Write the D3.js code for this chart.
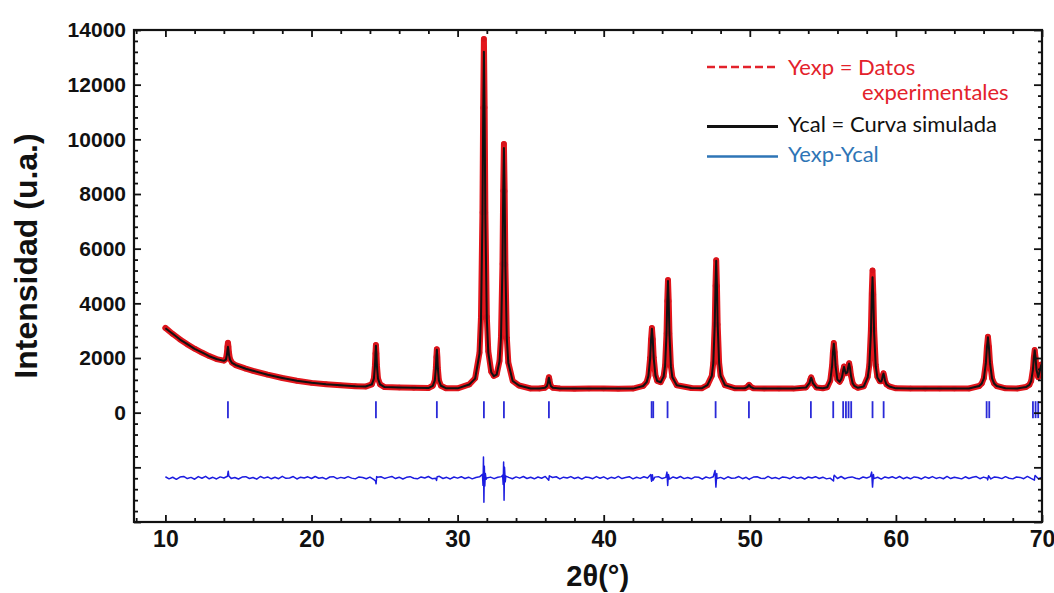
<!DOCTYPE html>
<html>
<head>
<meta charset="utf-8">
<script src="https://cdn.jsdelivr.net/npm/d3@7/dist/d3.min.js"></script>
<style>
  body { margin: 0; background: #fff; }
  svg { display: block; }
</style>
</head>
<body>
<svg id="chart" width="1054" height="593"></svg>
<script>
// ---- Powder diffraction pattern: observed, calculated, difference ----

// 2θ positions of the measured / calculated points (degrees)
const twoTheta = [
  10.0, 10.5, 11.0, 11.5, 12.0, 12.5, 13.0, 13.5,
  14.00, 14.14, 14.21, 14.245, 14.28, 14.315, 14.35, 14.42, 14.56,
  14.8, 15.5, 16.0, 17.0, 18.0, 19.0, 20.0, 21.0, 22.0, 23.0, 23.7,
  24.13, 24.27, 24.34, 24.375, 24.41, 24.445, 24.48, 24.55, 24.69,
  25.0, 26.0, 27.0, 28.0,
  28.30, 28.44, 28.51, 28.545, 28.58, 28.615, 28.65, 28.72, 28.86,
  29.2, 30.0,
  30.8, 31.2, 31.5, 31.6, 31.7, 31.75, 31.8, 31.85, 31.9, 32.0, 32.1, 32.3, 32.48,
  32.67, 32.87, 32.97, 33.07, 33.12, 33.17, 33.22, 33.27, 33.37, 33.47, 33.77, 34.2,
  35.0, 35.6,
  35.97, 36.11, 36.18, 36.215, 36.25, 36.285, 36.32, 36.39, 36.53,
  37.0, 38.0, 39.0, 40.0, 41.0, 42.0,
  42.7, 42.94, 43.06, 43.18, 43.24, 43.30, 43.36, 43.42, 43.54, 43.66, 43.9,
  44.1, 44.2, 44.3, 44.35, 44.40, 44.45, 44.5, 44.6, 44.7, 45.0,
  46.0, 46.7,
  47.1, 47.4, 47.5, 47.6, 47.65, 47.70, 47.75, 47.8, 47.9, 48.0, 48.3,
  49.0,
  49.65, 49.85, 49.9, 49.95, 50.0, 50.05, 50.25,
  51.0, 52.0, 53.0,
  53.84, 54.08, 54.14, 54.2, 54.26, 54.32, 54.56,
  55.0,
  55.3, 55.51, 55.63, 55.69, 55.75, 55.81, 55.87, 55.99, 56.15, 56.27, 56.33, 56.39,
  56.45, 56.51, 56.57, 56.68, 56.74, 56.80, 56.86, 56.92, 57.04, 57.16, 57.4,
  57.8, 58.07, 58.18, 58.29, 58.345, 58.40, 58.455, 58.51, 58.62, 58.73,
  58.9, 59.0, 59.05, 59.10, 59.15, 59.2, 59.25, 59.35, 59.55,
  60.0, 61.0, 62.0, 63.0, 64.0, 65.0,
  65.7, 65.88, 66.02, 66.16, 66.23, 66.30, 66.37, 66.44, 66.58, 66.72, 66.9,
  67.5, 68.3,
  68.9, 69.14, 69.26, 69.38, 69.44, 69.50, 69.56, 69.62, 69.74, 69.85, 69.95, 70.0
];

// Yexp: measured intensity (a.u.)
const yObs = [
  3100, 2880, 2680, 2500, 2340, 2200, 2070, 1960,
  1904, 1968, 2190, 2412, 2560, 2412, 2190, 1968, 1830,
  1740, 1610, 1530, 1390, 1270, 1170, 1090, 1040, 1000, 970, 955,
  1037, 1251, 1710, 2169, 2475, 2169, 1710, 1251, 1037,
  935, 920, 910, 900,
  985, 1184, 1610, 2036, 2320, 2036, 1610, 1184, 985,
  895, 890,
  1033, 1258, 2200, 3486, 7323, 11159, 13670, 11164, 7333, 3507, 2246, 1497, 1346,
  1396, 1895, 2771, 5440, 8116, 9830, 8106, 5420, 2733, 1834, 1164, 995,
  885, 885,
  910, 967, 1090, 1213, 1295, 1213, 1090, 967, 910,
  882, 879, 881, 880, 878, 881,
  977, 1121, 1346, 2013, 2678, 3100, 2684, 2025, 1372, 1164, 1115,
  1325, 1714, 2900, 4089, 4850, 4086, 2893, 1699, 1299, 1002,
  900, 890,
  1007, 1350, 1820, 3230, 4640, 5580, 4640, 3230, 1820, 1350, 1007,
  890,
  894, 948, 988, 1015, 988, 948, 894,
  880, 880, 880,
  921, 1085, 1208, 1290, 1208, 1085, 921,
  895,
  930, 1180, 1710, 2220, 2550, 2220, 1720, 1220, 1130, 1240, 1350, 1550,
  1690, 1560, 1440, 1480, 1680, 1810, 1640, 1370, 1080, 980, 910,
  966, 1312, 1744, 3040, 4336, 5200, 4336, 3040, 1744, 1312,
  1149, 1146, 1225, 1356, 1440, 1336, 1190, 1039, 958,
  890, 882, 880, 880, 880, 885,
  975, 1070, 1260, 1830, 2400, 2780, 2400, 1830, 1260, 1070, 975,
  890, 885,
  937, 1021, 1163, 1587, 2011, 2294, 2011, 1587, 1300, 1550, 1760, 1650
];

// Ycal: simulated (refined) profile (a.u.)
const yCalc = [
  3090, 2885, 2675, 2505, 2335, 2205, 2065, 1965,
  1895, 1938, 2115, 2292, 2410, 2292, 2115, 1938, 1820,
  1745, 1605, 1532, 1388, 1272, 1168, 1092, 1038, 1002, 968, 956,
  1035, 1245, 1695, 2145, 2445, 2145, 1695, 1245, 1035,
  936, 919, 911, 900,
  984, 1180, 1600, 2020, 2300, 2020, 1600, 1180, 984,
  895, 890,
  1029, 1245, 2155, 3390, 7085, 10780, 13200, 10785, 7095, 3410, 2200, 1480, 1336,
  1390, 1880, 2740, 5365, 7995, 9680, 7985, 5345, 2700, 1820, 1160, 993,
  885, 885,
  909, 964, 1083, 1201, 1280, 1201, 1083, 964, 909,
  882, 880, 880, 880, 880, 880,
  975, 1118, 1340, 1998, 2655, 3070, 2660, 2010, 1366, 1160, 1113,
  1320, 1708, 2885, 4064, 4820, 4060, 2878, 1693, 1295, 1001,
  900, 890,
  1006, 1348, 1816, 3220, 4624, 5560, 4624, 3220, 1816, 1348, 1006,
  890,
  893, 945, 984, 1010, 984, 945, 893,
  880, 880, 880,
  920, 1080, 1200, 1280, 1200, 1080, 920,
  895,
  930, 1175, 1700, 2200, 2520, 2200, 1710, 1215, 1128, 1236, 1345, 1540,
  1675, 1550, 1436, 1474, 1670, 1795, 1630, 1365, 1078, 978, 910,
  960, 1290, 1700, 2915, 4140, 4950, 4140, 2915, 1700, 1290,
  1140, 1140, 1218, 1348, 1430, 1330, 1185, 1036, 957,
  890, 882, 880, 880, 880, 885,
  974, 1068, 1255, 1820, 2385, 2760, 2385, 1820, 1255, 1068, 974,
  890, 885,
  936, 1018, 1158, 1575, 1995, 2280, 1995, 1575, 1295, 1540, 1745, 1640
];

// Yexp - Ycal residual sampled every 0.25° from 10° to 70°
const diffStep = 0.25;
const diffResidual = [
   35, -42,  18, -60,  25,  48, -30,  12, -55,  40,
  -20,  52, -38,  15, -45,  30, -10,  55, -25,   8,
  -48,  22,  38, -30,  10, -52,  45, -15,  28, -40,
   16, -35,  50, -22,  -8,  42, -46,  20, -12,  33,
  -28,  45, -18,   8, -50,  26,  38, -34,  12, -20,
   40, -15, -42,  30,   5, -38,  22, -60,  18,  35,
  -25,  12,  46, -30,  20, -48,  15,  38, -18, -40,
   28, -12,  44, -36, -20,  50, -28,  14, -45,  25,
  -15,  38, -30,  20, -42,  10,  32, -25, -10,  22,
  -35,  18,  40, -22,  12, -38,  30, -15,  45, -28,
   15, -40,  26, -18,  48, -32,   8,  36, -44,  20,
  -12,  42, -28,  18, -50,  25,  10, -36,  40, -20,
   32, -45,  15, -22,  48, -30,   5,  38, -42,  18,
  -25,  36, -10, -38,  22,  40, -30,  12, -48,  28,
  -18,  45, -32,  10, -40,  30,  18, -52,  26, -14,
   38, -28,  12, -45,  34, -20,  -8,  42, -36,  15,
  -40,  22,  35, -18, -30,  48, -25,  10, -44,  30,
   12, -36,  40, -22,  18, -48,  26, -10,  38, -30,
   20, -42, -15,  35, -28,  45, -38,  12,  30, -20,
  -45,  25, -12,  40, -32,  18, -50,  28,  -8,  36,
  -22,  44, -35,  15, -40,  28,   8, -46,  32, -18,
   40, -25,  12, -38,  46, -30,  18, -12, -42,  34,
  -28,  15,  42, -36,  22, -18, -45,  30,  10, -32,
   38, -20, -42,  25,  12, -35,  48, -26,  18, -40,
   22
];

// Residual excursions at the reflections: [2θ, Yexp - Ycal]
const diffPeaks = [
  [14.27, 140], [14.30, 240], [14.34, 60],
  [24.38, -120], [24.42, -220], [24.46, 40],
  [28.56, -100], [28.60, 40],
  [31.70, 120], [31.74, -280], [31.77, 754], [31.80, -893], [31.83, 420], [31.86, -300], [31.90, 150], [31.95, -60],
  [33.08, 90], [33.12, -250], [33.15, 571], [33.18, -827], [33.21, 380], [33.26, -150], [33.30, 60],
  [36.24, -90], [36.28, 70],
  [43.22, 120], [43.28, -130], [43.33, 110], [43.38, -90],
  [44.33, 205], [44.38, -282], [44.43, 120],
  [47.62, 267], [47.68, -344], [47.74, 150],
  [49.96, -60],
  [55.73, -120], [55.78, 90],
  [58.34, 205], [58.40, -344], [58.46, 120],
  [66.28, -80], [66.34, 70],
  [69.48, -90], [69.53, 80]
];

// Baseline on which the residual curve is plotted
const diffOffset = -2380;

// Bragg reflection positions (2θ)
const braggPositions = [
  14.28, 24.41, 28.58, 31.80, 33.17, 36.25, 43.28, 43.39, 44.37, 47.66,
  49.94, 54.18, 55.71, 56.39, 56.58, 56.76, 56.94, 58.40, 59.16,
  66.21, 66.39, 69.38, 69.56, 69.74
];

// Axis ticks
const xMajorTicks = [10, 20, 30, 40, 50, 60, 70];
const yMajorTicks = [-4000, -2000, 0, 2000, 4000, 6000, 8000, 10000, 12000, 14000];

// Legend entries
const legendItems = [
  { lines: ["Yexp = Datos", "experimentales"], color: "#e3222b", text: "#e3222b", dash: "8,4" },
  { lines: ["Ycal = Curva simulada"], color: "#111111", text: "#111111", dash: null },
  { lines: ["Yexp-Ycal"], color: "#2e75b6", text: "#2e75b6", dash: null }
];

// ---------------------------------------------------------------------

const svg = d3.select("#chart");
const plot = { left: 134, right: 1042, top: 30, bottom: 522 };

const x = d3.scaleLinear().domain([7.85, 70]).range([plot.left, plot.right]);
const y = d3.scaleLinear().domain([-4000, 14000]).range([plot.bottom, plot.top]);

const obsPoints = twoTheta.map((t, i) => [t, yObs[i]]);
const calcPoints = twoTheta.map((t, i) => [t, yCalc[i]]);
const diffPoints = diffResidual
  .map((v, i) => [10 + i * diffStep, v])
  .concat(diffPeaks)
  .sort((a, b) => a[0] - b[0]);

svg.append("defs").append("clipPath").attr("id", "plot-clip")
  .append("rect")
  .attr("x", plot.left).attr("y", plot.top)
  .attr("width", plot.right - plot.left).attr("height", plot.bottom - plot.top);

const data = svg.append("g").attr("clip-path", "url(#plot-clip)");

const line = d3.line().x(d => x(d[0])).y(d => y(d[1]));

// Observed intensity: red band + red points
data.append("path")
  .attr("d", line(obsPoints))
  .attr("fill", "none")
  .attr("stroke", "#e3161c")
  .attr("stroke-width", 6)
  .attr("stroke-linejoin", "round")
  .attr("stroke-linecap", "round");

data.append("g").selectAll("circle")
  .data(obsPoints)
  .join("circle")
  .attr("cx", d => x(d[0]))
  .attr("cy", d => y(d[1]))
  .attr("r", 2.7)
  .attr("fill", "#d8141b");

// Calculated profile
data.append("path")
  .attr("d", line(calcPoints))
  .attr("fill", "none")
  .attr("stroke", "#111")
  .attr("stroke-width", 2)
  .attr("stroke-linejoin", "round");

// Bragg reflection markers
data.append("g").selectAll("line")
  .data(braggPositions)
  .join("line")
  .attr("x1", d => x(d)).attr("x2", d => x(d))
  .attr("y1", y(420)).attr("y2", y(-200))
  .attr("stroke", "#2a2ad8")
  .attr("stroke-width", 1.8);

// Residual curve
data.append("path")
  .attr("d", d3.line().x(d => x(d[0])).y(d => y(d[1] + diffOffset))(diffPoints))
  .attr("fill", "none")
  .attr("stroke", "#1c1ce0")
  .attr("stroke-width", 1.5)
  .attr("stroke-linejoin", "round");

// ---- Axes (ticks inward on all four sides) ----
const xMinor = d3.range(8, 70.01, 2).filter(v => !xMajorTicks.includes(v));
const yMinor = d3.range(-4000, 14001, 400).filter(v => !yMajorTicks.includes(v));

const tickFont = "'Liberation Sans', Arial, sans-serif";

function styleAxis(g) {
  g.select(".domain").remove();
  g.selectAll(".tick line").attr("stroke", "#111").attr("stroke-width", 1.8);
}

// bottom
svg.append("g").attr("transform", `translate(0,${plot.bottom})`)
  .call(d3.axisBottom(x).tickValues(xMinor).tickSize(-4).tickFormat(""))
  .call(styleAxis);
svg.append("g").attr("transform", `translate(0,${plot.bottom})`)
  .call(d3.axisBottom(x).tickValues(xMajorTicks).tickSize(-7).tickPadding(9).tickFormat(d3.format("d")))
  .call(styleAxis)
  .call(g => g.selectAll("text")
    .attr("fill", "#111")
    .style("font-family", tickFont)
    .style("font-weight", "bold")
    .style("font-size", "23px"));

// top
svg.append("g").attr("transform", `translate(0,${plot.top})`)
  .call(d3.axisTop(x).tickValues(xMinor).tickSize(-4).tickFormat(""))
  .call(styleAxis);
svg.append("g").attr("transform", `translate(0,${plot.top})`)
  .call(d3.axisTop(x).tickValues(xMajorTicks).tickSize(-7).tickFormat(""))
  .call(styleAxis);

// left
svg.append("g").attr("transform", `translate(${plot.left},0)`)
  .call(d3.axisLeft(y).tickValues(yMinor).tickSize(-4).tickFormat(""))
  .call(styleAxis);
svg.append("g").attr("transform", `translate(${plot.left},0)`)
  .call(d3.axisLeft(y).tickValues(yMajorTicks).tickSize(-7).tickPadding(8)
    .tickFormat(d => d >= 0 ? d3.format("d")(d) : ""))
  .call(styleAxis)
  .call(g => g.selectAll("text")
    .attr("fill", "#111")
    .style("font-family", tickFont)
    .style("font-weight", "bold")
    .style("font-size", "21px"));

// right
svg.append("g").attr("transform", `translate(${plot.right},0)`)
  .call(d3.axisRight(y).tickValues(yMinor).tickSize(-4).tickFormat(""))
  .call(styleAxis);
svg.append("g").attr("transform", `translate(${plot.right},0)`)
  .call(d3.axisRight(y).tickValues(yMajorTicks).tickSize(-8).tickFormat(""))
  .call(styleAxis);

// frame
svg.append("rect")
  .attr("x", plot.left).attr("y", plot.top)
  .attr("width", plot.right - plot.left).attr("height", plot.bottom - plot.top)
  .attr("fill", "none").attr("stroke", "#111").attr("stroke-width", 2.2);

// axis titles
svg.append("text")
  .attr("x", (x(10) + x(70)) / 2 - 6)
  .attr("y", 586)
  .attr("text-anchor", "middle")
  .attr("fill", "#111")
  .style("font-family", tickFont)
  .style("font-weight", "bold")
  .style("font-size", "29px")
  .text("2θ(°)");

svg.append("text")
  .attr("transform", "translate(37,256) rotate(-90)")
  .attr("text-anchor", "middle")
  .attr("fill", "#111")
  .style("font-family", tickFont)
  .style("font-weight", "bold")
  .style("font-size", "32px")
  .text("Intensidad (u.a.)");

// ---- Legend ----
const legendFont = "Lato, 'Open Sans', sans-serif";
const legendRows = [
  { lineY: 67, textY: [75, 100], textX: [788, 862] },
  { lineY: 126.5, textY: [131.5], textX: [788] },
  { lineY: 156.5, textY: [161.5], textX: [788] }
];
const legend = svg.append("g");
legendItems.forEach((item, i) => {
  const row = legendRows[i];
  legend.append("line")
    .attr("x1", 707).attr("x2", 778)
    .attr("y1", row.lineY).attr("y2", row.lineY)
    .attr("stroke", item.color)
    .attr("stroke-width", i === 1 ? 3 : 2.6)
    .attr("stroke-dasharray", item.dash);
  item.lines.forEach((t, j) => {
    legend.append("text")
      .attr("x", row.textX[j]).attr("y", row.textY[j])
      .attr("fill", item.text)
      .style("font-family", legendFont)
      .style("font-size", "22px")
      .text(t);
  });
});
</script>
</body>
</html>
